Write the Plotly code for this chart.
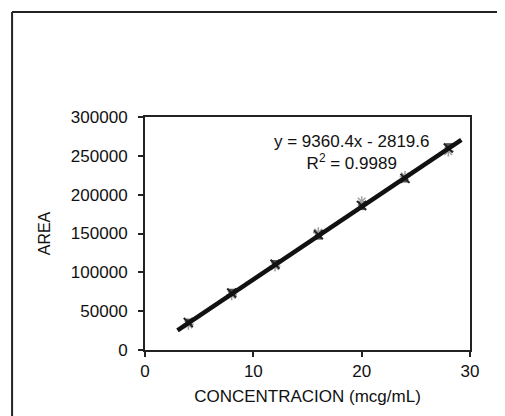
import plotly.graph_objects as go

conc = [4, 8, 12, 16, 20, 24, 28]
rep1 = [35500, 73500, 110500, 148500, 186000, 221000, 260000]
rep2 = [33000, 71000, 108000, 151000, 191000, 223500, 256000]
rep3 = [36500, 75000, 112000, 146000, 184000, 219500, 262500]
slope = 9360.4
intercept = -2819.6
fit_x = [3.0, 29.2]
xticks = [0, 10, 20, 30]
yticks = [0, 50000, 100000, 150000, 200000, 250000, 300000]
ytick_text = ["0", "50000", "100000", "150000", "200000", "250000", "300000"]

fig = go.Figure()
fig.add_trace(go.Scatter(x=conc, y=rep2, mode="markers",
                         marker=dict(symbol="asterisk-open", size=9, color="#a0a0a0",
                                     line=dict(width=1.5, color="#a0a0a0"))))
fig.add_trace(go.Scatter(x=conc, y=rep3, mode="markers",
                         marker=dict(symbol="square", size=6, color="#555555")))
fig.add_trace(go.Scatter(x=conc, y=rep1, mode="markers",
                         marker=dict(symbol="x-thin-open", size=9, color="#222222",
                                     line=dict(width=2, color="#222222"))))
fig.add_trace(go.Scatter(x=fit_x, y=[slope * v + intercept for v in fit_x], mode="lines",
                         line=dict(color="#111111", width=4.5)))

font = "Liberation Sans, Arial, sans-serif"
fig.update_layout(
    width=505, height=416,
    margin=dict(l=137, r=43, t=109, b=74),
    paper_bgcolor="white", plot_bgcolor="white",
    showlegend=False,
    font=dict(family=font, size=16, color="#111111"),
    xaxis=dict(range=[0, 30], tickvals=xticks, showgrid=False, zeroline=False,
               showline=True, linecolor="#222222", linewidth=2, mirror=True,
               ticks="outside", ticklen=5, tickcolor="#222222", tickwidth=1.5,
               title=dict(text="CONCENTRACION (mcg/mL)", standoff=10,
                          font=dict(size=17)),
               tickfont=dict(size=17)),
    yaxis=dict(range=[0, 300000], tickvals=yticks, ticktext=ytick_text,
               showgrid=False, zeroline=False,
               showline=True, linecolor="#222222", linewidth=2, mirror=True,
               ticks="outside", ticklen=5, tickcolor="#222222", tickwidth=1.5,
               ticklabelstandoff=7,
               title=dict(text="AREA", standoff=16, font=dict(size=16)),
               tickfont=dict(size=17)),
    shapes=[
        dict(type="line", xref="paper", yref="paper", x0=-0.409, x1=1.2,
             y0=1.4506, y1=1.4506, line=dict(color="#222222", width=2)),
        dict(type="line", xref="paper", yref="paper", x0=-0.409, x1=-0.409,
             y0=1.4506, y1=-0.35, line=dict(color="#222222", width=2)),
    ],
    annotations=[
        dict(x=0.635, y=0.945, xref="paper", yref="paper", showarrow=False,
             text="y = 9360.4x - 2819.6<br>R<sup>2</sup> = 0.9989",
             font=dict(size=17, family=font), align="center"),
    ],
)
fig.write_html("out.html")
